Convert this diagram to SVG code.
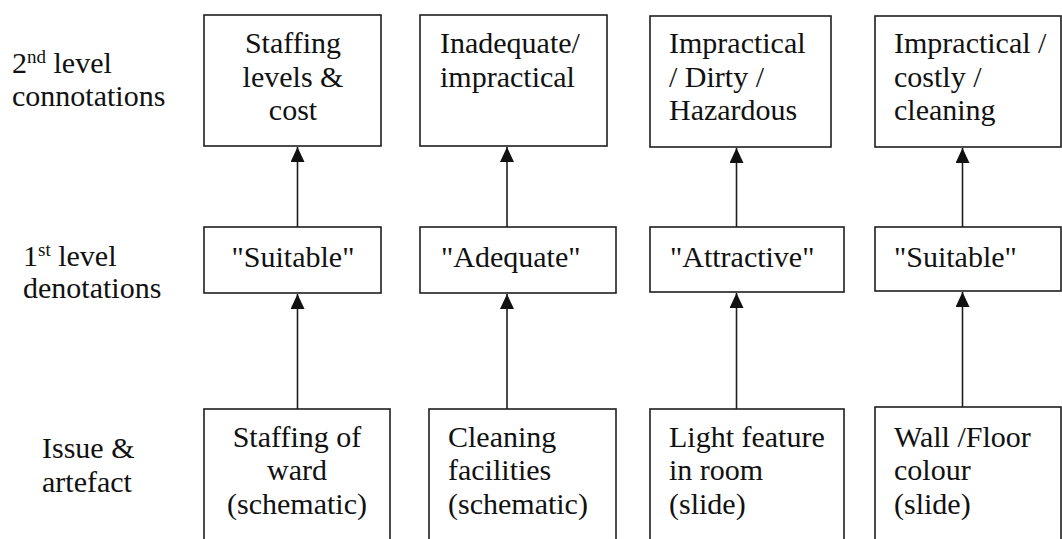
<svg xmlns="http://www.w3.org/2000/svg" width="1062" height="539" viewBox="0 0 1062 539">
<defs>
  <marker id="ah" viewBox="0 0 15 14" refX="15" refY="7" markerWidth="15" markerHeight="14" markerUnits="userSpaceOnUse" orient="auto">
    <path d="M0,0 L15,7 L0,14 z" fill="#111111"/>
  </marker>
</defs>
<rect x="0" y="0" width="1062" height="539" fill="#ffffff"/>

<g id="row-labels" fill="#111111">
  <text font-family="Liberation Serif" font-size="30" x="12" y="73">2<tspan font-size="19" dy="-10">nd</tspan><tspan dy="10"> level</tspan></text>
  <text font-family="Liberation Serif" font-size="30" x="12" y="106">connotations</text>
  <text font-family="Liberation Serif" font-size="30" x="23" y="266">1<tspan font-size="19" dy="-10">st</tspan><tspan dy="10"> level</tspan></text>
  <text font-family="Liberation Serif" font-size="30" x="23" y="298">denotations</text>
  <text font-family="Liberation Serif" font-size="30" x="42" y="458">Issue &amp;</text>
  <text font-family="Liberation Serif" font-size="30" x="42" y="492">artefact</text>
</g>

<g id="connectors" stroke="#1e1e1e" stroke-width="1.6" fill="none" marker-end="url(#ah)">
  <line x1="297.5" y1="409" x2="297.5" y2="294"/>
  <line x1="297.5" y1="227" x2="297.5" y2="147"/>
  <line x1="507" y1="409" x2="507" y2="294"/>
  <line x1="507" y1="227" x2="507" y2="147"/>
  <line x1="736.5" y1="409" x2="736.5" y2="293"/>
  <line x1="736.5" y1="227" x2="736.5" y2="148"/>
  <line x1="962.5" y1="407" x2="962.5" y2="292"/>
  <line x1="962.5" y1="227" x2="962.5" y2="148"/>
</g>

<g id="c1-top" fill="#111111">
  <rect x="204" y="15" width="177" height="131" fill="#ffffff" stroke="#1e1e1e" stroke-width="1.6"/>
  <text font-family="Liberation Serif" font-size="30" text-anchor="middle" x="293" y="53">Staffing</text>
  <text font-family="Liberation Serif" font-size="30" text-anchor="middle" x="293" y="87">levels &amp;</text>
  <text font-family="Liberation Serif" font-size="30" text-anchor="middle" x="293" y="120">cost</text>
</g>
<g id="c2-top" fill="#111111">
  <rect x="420" y="15" width="187" height="131" fill="#ffffff" stroke="#1e1e1e" stroke-width="1.6"/>
  <text font-family="Liberation Serif" font-size="30" x="440" y="53">Inadequate/</text>
  <text font-family="Liberation Serif" font-size="30" x="440" y="87">impractical</text>
</g>
<g id="c3-top" fill="#111111">
  <rect x="650" y="16" width="181" height="131" fill="#ffffff" stroke="#1e1e1e" stroke-width="1.6"/>
  <text font-family="Liberation Serif" font-size="30" x="669" y="53">Impractical</text>
  <text font-family="Liberation Serif" font-size="30" x="669" y="87">/ Dirty /</text>
  <text font-family="Liberation Serif" font-size="30" x="669" y="120">Hazardous</text>
</g>
<g id="c4-top" fill="#111111">
  <rect x="875" y="16" width="186" height="131" fill="#ffffff" stroke="#1e1e1e" stroke-width="1.6"/>
  <text font-family="Liberation Serif" font-size="30" x="894" y="53">Impractical /</text>
  <text font-family="Liberation Serif" font-size="30" x="894" y="87">costly /</text>
  <text font-family="Liberation Serif" font-size="30" x="894" y="120">cleaning</text>
</g>

<g id="c1-mid" fill="#111111">
  <rect x="204" y="227" width="177" height="66" fill="#ffffff" stroke="#1e1e1e" stroke-width="1.6"/>
  <text font-family="Liberation Serif" font-size="30" text-anchor="middle" x="293" y="267">"Suitable"</text>
</g>
<g id="c2-mid" fill="#111111">
  <rect x="420" y="227" width="196" height="66" fill="#ffffff" stroke="#1e1e1e" stroke-width="1.6"/>
  <text font-family="Liberation Serif" font-size="30" x="441" y="267">"Adequate"</text>
</g>
<g id="c3-mid" fill="#111111">
  <rect x="650" y="227" width="194" height="65" fill="#ffffff" stroke="#1e1e1e" stroke-width="1.6"/>
  <text font-family="Liberation Serif" font-size="30" x="670" y="267">"Attractive"</text>
</g>
<g id="c4-mid" fill="#111111">
  <rect x="875" y="227" width="186" height="64" fill="#ffffff" stroke="#1e1e1e" stroke-width="1.6"/>
  <text font-family="Liberation Serif" font-size="30" x="894" y="267">"Suitable"</text>
</g>

<g id="c1-bot" fill="#111111">
  <rect x="204" y="409" width="186" height="140" fill="#ffffff" stroke="#1e1e1e" stroke-width="1.6"/>
  <text font-family="Liberation Serif" font-size="30" text-anchor="middle" x="297" y="447">Staffing of</text>
  <text font-family="Liberation Serif" font-size="30" text-anchor="middle" x="297" y="480">ward</text>
  <text font-family="Liberation Serif" font-size="30" text-anchor="middle" x="297" y="514">(schematic)</text>
</g>
<g id="c2-bot" fill="#111111">
  <rect x="429" y="409" width="187" height="140" fill="#ffffff" stroke="#1e1e1e" stroke-width="1.6"/>
  <text font-family="Liberation Serif" font-size="30" x="448" y="447">Cleaning</text>
  <text font-family="Liberation Serif" font-size="30" x="448" y="480">facilities</text>
  <text font-family="Liberation Serif" font-size="30" x="448" y="514">(schematic)</text>
</g>
<g id="c3-bot" fill="#111111">
  <rect x="650" y="409" width="194" height="140" fill="#ffffff" stroke="#1e1e1e" stroke-width="1.6"/>
  <text font-family="Liberation Serif" font-size="30" x="669" y="447">Light feature</text>
  <text font-family="Liberation Serif" font-size="30" x="669" y="480">in room</text>
  <text font-family="Liberation Serif" font-size="30" x="669" y="514">(slide)</text>
</g>
<g id="c4-bot" fill="#111111">
  <rect x="875" y="407" width="186" height="142" fill="#ffffff" stroke="#1e1e1e" stroke-width="1.6"/>
  <text font-family="Liberation Serif" font-size="30" x="894" y="447">Wall /Floor</text>
  <text font-family="Liberation Serif" font-size="30" x="894" y="480">colour</text>
  <text font-family="Liberation Serif" font-size="30" x="894" y="514">(slide)</text>
</g>
</svg>
